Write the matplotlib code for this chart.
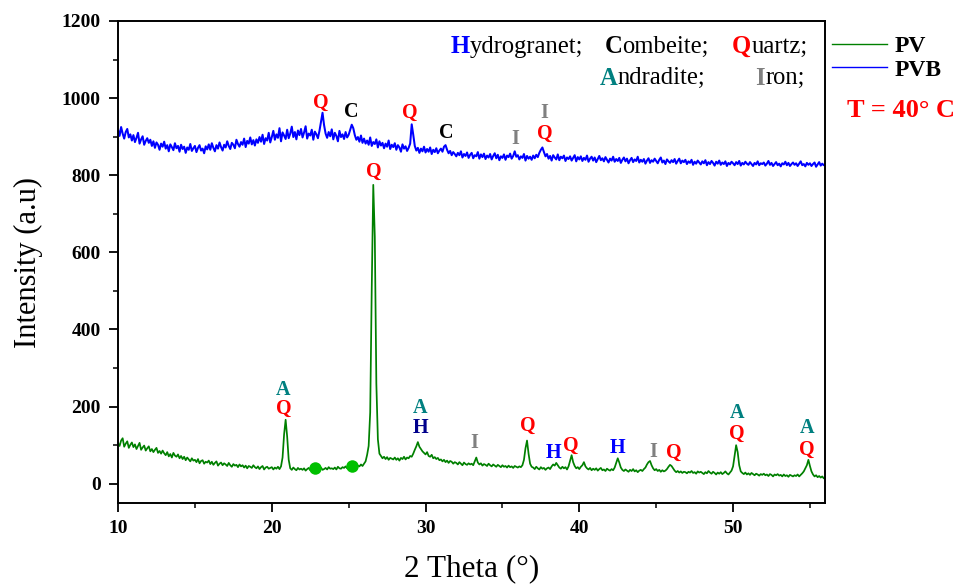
import numpy as np
import matplotlib
matplotlib.use("Agg")
import matplotlib.pyplot as plt
from matplotlib.ticker import MultipleLocator

plt.rcParams['font.family'] = ['Liberation Serif', 'DejaVu Serif']
plt.rcParams['mathtext.fontset'] = 'stix'

# 2-theta scan grid (degrees), 0.1 deg step
two_theta = np.round(np.arange(10.0, 56.0001, 0.1), 1)

# PV pattern intensities, one row per degree (x.0 ... x.9)
pv_intensity = [
    105, 98, 112, 118, 96, 104, 110, 93, 101, 107,
    95, 102, 90, 98, 106, 88, 94, 99, 86, 92,
    97, 84, 90, 82, 88, 93, 80, 85, 78, 86,
    79, 74, 82, 71, 77, 68, 80, 73, 70, 76,
    66, 72, 64, 70, 61, 68, 63, 58, 66, 60,
    62, 56, 64, 53, 59, 61, 52, 57, 55, 60,
    51, 57, 49, 54, 58, 47, 52, 55, 48, 53,
    50, 46, 54, 48, 44, 51, 47, 49, 43, 50,
    45, 48, 42, 47, 40, 46, 44, 41, 48, 43,
    40, 45, 38, 43, 46, 37, 42, 44, 39, 41,
    43, 37, 42, 39, 44, 38, 45, 68, 128, 166,
    122, 62, 40, 36, 42, 38, 35, 41, 37, 39,
    36, 40, 34, 38, 41, 35, 39, 36, 40, 37,
    35, 39, 42, 36, 38, 41, 37, 43, 39, 40,
    38, 42, 37, 44, 40, 39, 43, 41, 45, 40,
    42, 46, 41, 44, 48, 43, 47, 45, 50, 46,
    52, 58, 75, 98, 185, 505, 775, 640, 260, 115,
    78, 72, 66, 70, 64, 69, 62, 67, 65, 63,
    68, 62, 66, 60, 67, 64, 70, 63, 68, 66,
    72, 70, 78, 88, 97, 108, 96, 90, 84, 80,
    76, 82, 72, 70, 75, 66, 69, 64, 67, 61,
    63, 58, 62, 56, 60, 54, 59, 57, 52, 56,
    54, 50, 56, 52, 48, 55, 51, 49, 53, 50,
    52, 48, 58, 68, 55, 50, 53, 47, 51, 49,
    46, 52, 48, 45, 50, 47, 44, 49, 46, 43,
    48, 44, 46, 42, 47, 43, 45, 41, 46, 44,
    42, 45, 43, 48, 62, 92, 112, 78, 52, 44,
    42, 38, 44, 40, 37, 43, 39, 41, 36, 40,
    42, 38, 45, 50, 47, 54, 48, 42, 39, 44,
    40, 43, 37, 45, 60, 74, 56, 46, 40, 43,
    38, 44, 48, 56, 45, 40, 37, 41, 35, 39,
    36, 40, 34, 38, 41, 35, 37, 33, 39, 36,
    34, 38, 35, 42, 54, 66, 55, 42, 36, 33,
    37, 34, 31, 36, 33, 38, 32, 35, 30, 34,
    36, 33, 38, 42, 50, 56, 59, 48, 40, 35,
    38, 33, 36, 31, 35, 32, 34, 38, 44, 49,
    46, 40, 34, 30, 33, 29, 32, 28, 31, 30,
    27, 31, 29, 33, 28, 30, 26, 32, 29, 31,
    28, 25, 30, 27, 33, 29, 26, 31, 28, 24,
    29, 26, 30, 25, 28, 32, 27, 24, 29, 34,
    45, 72, 100, 82, 48, 32, 28, 25, 29, 24,
    27, 23, 28, 25, 22, 26, 24, 21, 25, 23,
    26, 22, 24, 20, 25, 23, 19, 24, 22, 25,
    21, 23, 19, 24, 20, 22, 18, 23, 21, 19,
    22, 20, 24, 19, 23, 27, 32, 40, 48, 62,
    46, 32, 24, 19, 22, 17, 20, 16, 19, 14,
    15,
]

# PVB pattern intensities, one row per degree (x.0 ... x.9)
pvb_intensity = [
    918, 902, 925, 908, 895, 912, 920, 898, 906, 890,
    904, 886, 897, 910, 882, 893, 901, 879, 889, 896,
    884, 892, 876, 888, 871, 885, 879, 866, 882, 874,
    887, 869, 878, 862, 880, 873, 865, 883, 870, 876,
    861, 879, 868, 874, 858, 872, 866, 881, 863, 870,
    876, 860, 871, 878, 864, 869, 857, 875, 867, 880,
    866, 883, 871, 862, 878, 869, 885, 873, 864, 879,
    872, 888, 876, 868, 884, 879, 870, 892, 881, 874,
    886, 879, 895, 873, 889, 882, 898, 880, 891, 877,
    893, 884, 899, 887, 905, 881, 896, 890, 910, 885,
    899, 915, 892, 906, 897, 922, 888, 911, 903, 894,
    918, 896, 908, 926, 899, 912, 893, 916, 904, 920,
    898, 911, 927, 895, 908, 903, 918, 892, 913, 906,
    896, 915, 938, 962, 930, 908, 897, 912, 901, 919,
    893, 910, 902, 888, 915, 899, 906, 894, 912, 898,
    905, 918, 931, 922, 904, 892, 899, 887, 903, 884,
    895, 882, 890, 879, 898, 876, 886, 881, 893, 872,
    888, 877, 884, 870, 882, 874, 890, 868, 879, 873,
    883, 866, 878, 872, 861, 880, 869, 875, 863, 871,
    882, 932, 905, 876, 864, 871, 858, 869, 862, 874,
    859, 868, 861, 872, 855, 866, 860, 870, 857, 864,
    869, 861, 874, 878, 866, 857, 863, 852, 860, 855,
    849, 858, 852, 862, 846, 855, 850, 859, 845, 853,
    858, 844, 852, 849, 860, 843, 854, 847, 856, 842,
    851, 846, 855, 841, 850, 857, 844, 853, 839, 849,
    845, 854, 840, 851, 847, 856, 843, 850, 862, 848,
    852, 841, 849, 845, 855, 838, 850, 843, 848, 840,
    851, 844, 853, 847, 858, 866, 872, 860, 849, 855,
    843, 850, 838, 852, 846, 841, 854, 839, 848, 844,
    851, 837, 846, 842, 849, 838, 845, 852, 836, 847,
    841, 849, 837, 845, 840, 851, 835, 843, 848, 838,
    846, 834, 842, 850, 839, 844, 836, 847, 840, 833,
    843, 838, 848, 835, 842, 837, 845, 832, 840, 846,
    836, 843, 831, 839, 845, 834, 841, 837, 848, 833,
    840, 835, 842, 830, 838, 844, 832, 839, 835, 843,
    837, 831, 840, 846, 833, 838, 829, 841, 836, 832,
    839, 834, 842, 830, 837, 843, 831, 838, 834, 840,
    829, 836, 832, 840, 827, 835, 830, 838, 833, 828,
    836, 831, 839, 826, 834, 829, 837, 832, 825, 835,
    830, 838, 827, 833, 829, 836, 824, 832, 828, 835,
    831, 826, 834, 829, 837, 825, 832, 828, 835, 830,
    827, 834, 829, 824, 832, 828, 836, 826, 831, 829,
    833, 825, 830, 837, 827, 832, 824, 829, 834, 826,
    830, 823, 831, 828, 835, 826, 832, 824, 829, 833,
    827, 831, 824, 830, 836, 826, 829, 823, 832, 827,
    831, 824, 829, 833, 822, 828, 834, 825, 830, 826,
    828,
]

# two round markers sitting on the PV baseline
dot_theta = [22.8, 25.2]
dot_intensity = [41, 45]

# phase labels: (2theta, intensity, letter)
pvb_labels = [
    (23.2, 987, 'Q'), (25.15, 964, 'C'), (29.0, 961, 'Q'), (31.33, 909, 'C'),
    (35.82, 894, 'I'), (37.7, 961, 'I'), (37.77, 906, 'Q'),
]
pv_labels = [
    (26.65, 808, 'Q'),
    (20.75, 243, 'A'), (20.8, 193, 'Q'),
    (29.64, 196, 'A'), (29.64, 144, 'H*'),
    (33.2, 105, 'I'), (36.67, 149, 'Q'), (38.3, 79, 'H'), (39.46, 97, 'Q'),
    (42.46, 92, 'H'), (44.8, 82, 'I'), (46.16, 79, 'Q'),
    (50.26, 183, 'A'), (50.26, 128, 'Q'),
    (54.81, 144, 'A'), (54.81, 89, 'Q'),
]
phase_colors = {'Q': '#FF0000', 'C': '#000000', 'H': '#0000FF', 'H*': '#00008B',
                'A': '#008080', 'I': '#808080'}

# phase key: (first letter, rest, colour, x anchor in axes fraction, row y)
phase_key = [
    ('H', 'ydrogranet;', '#0000FF', 0.497, 0.947),
    ('C', 'ombeite;', '#000000', 0.7133, 0.947),
    ('Q', 'uartz;', '#FF0000', 0.8955, 0.947),
    ('A', 'ndradite;', '#008080', 0.706, 0.881),
    ('I', 'ron;', '#808080', 0.915, 0.881),
]

x_ticks = [10, 20, 30, 40, 50]
y_ticks = [0, 200, 400, 600, 800, 1000, 1200]

fig = plt.figure(figsize=(9.55, 5.86), dpi=100)
ax = fig.add_axes([0.1236, 0.1416, 0.7406, 0.8226])

ax.plot(two_theta, pv_intensity, color='#008000', lw=1.25, label='PV')
ax.plot(two_theta, pvb_intensity, color='#0000FF', lw=1.45, label='PVB')
ax.plot(dot_theta, dot_intensity, 'o', color='#00C000', ms=9, mec='none')

for x, y, s in pvb_labels + pv_labels:
    ax.text(x, y, s.rstrip('*'), color=phase_colors[s], fontsize=14.5,
            fontweight='bold', ha='center', va='center')

for first, rest, col, xa, ya in phase_key:
    ax.text(xa, ya, first, color=col, fontsize=17.7, fontweight='bold',
            ha='right', va='center', transform=ax.transAxes)
    ax.text(xa, ya, rest, color='black', fontsize=17.7,
            ha='left', va='center', transform=ax.transAxes)

ax.set_xlim(10, 56)
ax.set_ylim(-50, 1200)
ax.set_xticks(x_ticks)
ax.set_yticks(y_ticks)
ax.xaxis.set_minor_locator(MultipleLocator(5))
ax.yaxis.set_minor_locator(MultipleLocator(100))
ax.tick_params(which='major', direction='out', length=6.5, width=1.3,
               labelsize=14, pad=6)
ax.tick_params(which='minor', direction='out', length=3.5, width=1.1)
for lab in ax.get_xticklabels() + ax.get_yticklabels():
    lab.set_fontweight('bold')
for sp in ax.spines.values():
    sp.set_linewidth(1.4)

ax.set_xlabel('2 Theta (°)', fontsize=22.5, labelpad=12)
ax.set_ylabel('Intensity (a.u)', fontsize=22, labelpad=13)

leg = ax.legend(loc='upper left', bbox_to_anchor=(1.0, 0.985), frameon=False,
                prop={'weight': 'bold', 'size': 17}, handlelength=2.3,
                handletextpad=0.35, borderaxespad=0.1, labelspacing=0.1,
                borderpad=0.2)
for ln in leg.get_lines():
    ln.set_linewidth(1.0)
fig.text(0.9435, 0.812, 'T = 40° C', color='#FF0000', fontsize=19,
         fontweight='bold', ha='center', va='center')

fig.savefig('out.png', dpi=100)
